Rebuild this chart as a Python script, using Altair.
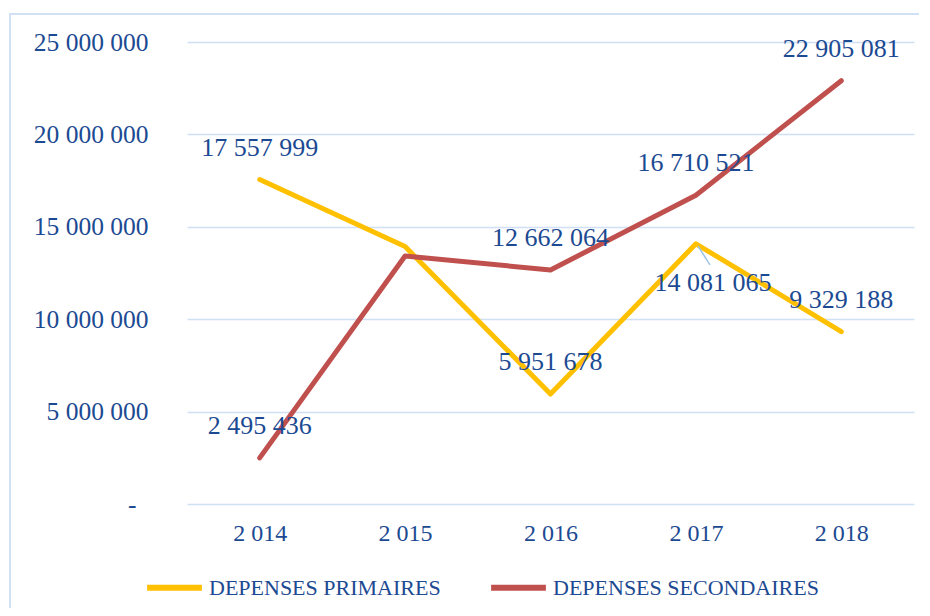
import altair as alt
import pandas as pd

years = ["2 014", "2 015", "2 016", "2 017", "2 018"]
primaires = [17557999, 13930000, 5951678, 14081065, 9329188]
secondaires = [2495436, 13420000, 12662064, 16710521, 22905081]
# which points carry a data label (Excel hid the 2015 ones)
show_prim = [True, False, True, True, True]
show_sec = [True, False, True, True, True]

S1 = "DEPENSES PRIMAIRES"
S2 = "DEPENSES SECONDAIRES"

rows = []
for i, y in enumerate(years):
    rows.append({"year": y, "serie": S1, "value": primaires[i], "show": show_prim[i], "order": i})
for i, y in enumerate(years):
    rows.append({"year": y, "serie": S2, "value": secondaires[i], "show": show_sec[i], "order": i})
df = pd.DataFrame(rows)

FONT = "Liberation Serif"
TXT = "#1C4A92"
GRID = "#D0E0F5"

x = alt.X("year:O", sort=years, scale=alt.Scale(type="point", padding=0.5),
          axis=alt.Axis(title=None, labelAngle=0, domain=False, ticks=False, grid=False,
                        labelPadding=17, labelFontSize=24, labelFont=FONT, labelColor=TXT))
y = alt.Y("value:Q", scale=alt.Scale(domain=[0, 25000000], nice=False, zero=True),
          axis=alt.Axis(title=None, values=[0, 5000000, 10000000, 15000000, 20000000, 25000000],
                        domain=False, ticks=False,
                        labelPadding={"condition": {"test": "datum.value == 0", "value": 51}, "value": 39},
                        labelFontSize=25.5,
                        labelFont=FONT, labelColor=TXT, gridColor=GRID, gridWidth=1.5,
                        labelExpr="datum.value == 0 ? '-' : replace(format(datum.value, ','), regexp(',', 'g'), ' ')"))

color = alt.Color("serie:N", sort=[S1, S2],
                  scale=alt.Scale(domain=[S1, S2], range=["#FFC000", "#C0504D"]),
                  legend=alt.Legend(title=None, orient="none", direction="horizontal",
                                    legendX=-43, legendY=515, symbolType="stroke",
                                    symbolSize=3000, symbolStrokeWidth=6,
                                    labelFont=FONT, labelFontSize=22, labelColor=TXT,
                                    labelOffset=4, columnPadding=38, labelLimit=400))

border = alt.Chart(pd.DataFrame({"a": [0]})).mark_rect(
    fillOpacity=0, stroke="#D0E0F5", strokeWidth=2, clip=False
).encode(x=alt.value(-177), x2=alt.value(780), y=alt.value(-28), y2=alt.value(640))

lines = alt.Chart(df).mark_line(strokeWidth=5, strokeCap="round", strokeJoin="round").encode(
    x=x, y=y, color=color, order="order:Q"
)

labels_base = alt.Chart(df).transform_filter("datum.show").transform_calculate(
    label="replace(format(datum.value, ','), regexp(',', 'g'), ' ')"
)

labels = labels_base.transform_filter(
    f"!(datum.serie == '{S1}' && datum.year == '2 017')"
).mark_text(font=FONT, fontSize=26, color=TXT, dy=-32, baseline="middle").encode(
    x=alt.X("year:O", sort=years), y="value:Q", text="label:N"
)

leader = alt.Chart(df).transform_filter(
    f"datum.serie == '{S1}' && datum.year == '2 017'"
).mark_rule(color="#9DC3E6", strokeWidth=1.5, xOffset=2, yOffset=2, x2Offset=14, y2Offset=21).encode(
    x=alt.X("year:O", sort=years), x2="year:O", y="value:Q", y2="value:Q"
)

label_special = labels_base.transform_filter(
    f"datum.serie == '{S1}' && datum.year == '2 017'"
).mark_text(font=FONT, fontSize=26, color=TXT, dx=17, dy=39, baseline="middle").encode(
    x=alt.X("year:O", sort=years), y="value:Q", text="label:N"
)

chart = alt.layer(border, lines, leader, labels, label_special).properties(
    width=727, height=462,
    background="white",
    autosize=alt.AutoSizeParams(type="none"),
    padding={"left": 179, "top": 34, "right": 5, "bottom": 104},
).configure_view(stroke="transparent", strokeWidth=0)

chart.save("out.html", embed_options={"renderer": "svg", "actions": False})
